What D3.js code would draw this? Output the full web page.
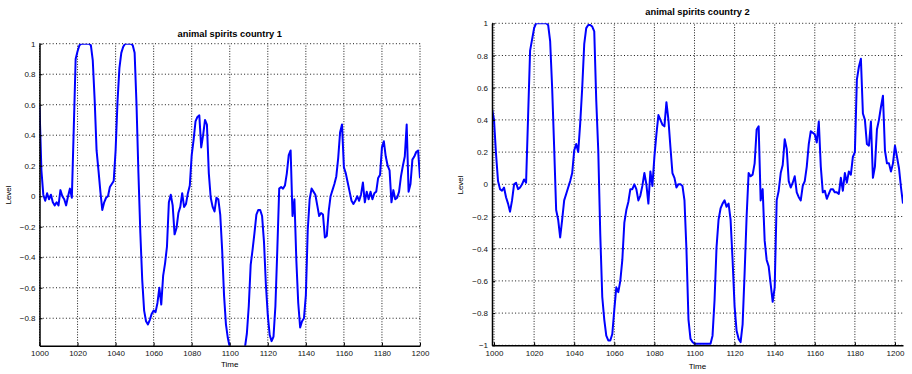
<!DOCTYPE html>
<html>
<head>
<meta charset="utf-8">
<script src="https://cdn.jsdelivr.net/npm/d3@7"></script>
<style>
  body { margin: 0; background: #fff; }
  svg { font-family: "Liberation Sans", Arial, Helvetica, sans-serif; }
  .axis path { stroke: #000; stroke-width: 1.5; }
  .axis line { stroke: #000; }
  .axis text { font-size: 8px; fill: #111; }
  .grid line { stroke: #000; stroke-width: 0.9; }
  .grid .gx { stroke-dasharray: 1,1.6; }
  .grid .gy { stroke-dasharray: 1,2.3; }
  .title { font-size: 9.3px; font-weight: bold; }
  .axis-label { font-size: 8px; }
</style>
</head>
<body>
<div id="chart"></div>
<script>
// time axis ticks and level ticks
var timeTicks = [1000, 1020, 1040, 1060, 1080, 1100, 1120, 1140, 1160, 1180, 1200];
var levelTicks1 = [-0.8, -0.6, -0.4, -0.2, 0, 0.2, 0.4, 0.6, 0.8, 1];
var levelTicks2 = [-1, -0.8, -0.6, -0.4, -0.2, 0, 0.2, 0.4, 0.6, 0.8, 1];

// country 1, one value per period starting at 1000
var start1 = 1000;
var country1 = [
  0.59, 0.17, 0.01, -0.03, 0.02, -0.02, 0.01, -0.04, -0.06, -0.04,
  -0.06, 0.04, 0.00, -0.02, -0.06, 0.00, 0.05, -0.01, 0.44, 0.90,
  0.95, 0.99, 1.00, 1.00, 1.00, 1.00, 1.00, 0.99, 0.89, 0.63,
  0.30, 0.17, 0.03, -0.09, -0.04, -0.01, 0.00, 0.06, 0.08, 0.10,
  0.30, 0.62, 0.84, 0.94, 0.98, 1.00, 1.00, 1.00, 1.00, 0.99,
  0.94, 0.60, 0.15, -0.24, -0.55, -0.75, -0.82, -0.84, -0.81, -0.77,
  -0.75, -0.76, -0.70, -0.60, -0.71, -0.52, -0.44, -0.33, -0.04, 0.01,
  -0.06, -0.25, -0.21, -0.11, -0.07, 0.02, -0.07, -0.05, 0.02, 0.07,
  0.27, 0.37, 0.49, 0.52, 0.53, 0.32, 0.40, 0.50, 0.47, 0.15,
  -0.01, -0.07, -0.10, -0.01, -0.02, -0.12, -0.35, -0.65, -0.84, -0.93,
  -0.99, -1.00, -1.00, -1.00, -1.00, -1.00, -1.00, -1.00, -0.99, -0.90,
  -0.72, -0.45, -0.35, -0.24, -0.12, -0.09, -0.09, -0.13, -0.30, -0.58,
  -0.78, -0.91, -0.95, -0.92, -0.72, -0.35, 0.05, 0.06, 0.05, 0.07,
  0.15, 0.27, 0.30, -0.13, -0.02, -0.42, -0.70, -0.86, -0.82, -0.80,
  -0.65, -0.22, -0.02, 0.05, 0.03, 0.01, -0.06, -0.13, -0.11, -0.12,
  -0.27, -0.26, -0.10, 0.00, 0.04, 0.08, 0.13, 0.25, 0.42, 0.47,
  0.19, 0.15, 0.09, 0.03, -0.03, -0.05, -0.03, 0.00, -0.03, 0.01,
  0.09, -0.04, 0.03, -0.02, 0.03, -0.02, 0.02, 0.03, 0.12, 0.14,
  0.32, 0.36, 0.26, 0.20, 0.17, -0.04, 0.04, -0.02, -0.01, 0.03,
  0.13, 0.20, 0.26, 0.47, 0.03, 0.08, 0.24, 0.26, 0.29, 0.30,
  0.12
];

// country 2, one value per period starting at 999
var start2 = 999;
var country2 = [
  0.47, 0.40, 0.19, 0.02, -0.03, -0.04, -0.02, -0.08, -0.12, -0.17,
  -0.10, 0.00, 0.01, -0.03, -0.02, 0.00, 0.03, 0.01, 0.42, 0.83,
  0.90, 0.97, 1.00, 1.00, 1.00, 1.00, 1.00, 1.00, 0.99, 0.89,
  0.60, 0.23, -0.16, -0.22, -0.33, -0.22, -0.10, -0.06, -0.02, 0.02,
  0.07, 0.21, 0.25, 0.20, 0.38, 0.60, 0.87, 0.97, 0.99, 0.99,
  0.98, 0.95, 0.52, 0.21, -0.31, -0.70, -0.84, -0.94, -0.97, -0.97,
  -0.93, -0.78, -0.64, -0.67, -0.60, -0.47, -0.24, -0.16, -0.11, -0.03,
  -0.03, 0.00, -0.03, -0.10, -0.07, -0.01, 0.07, 0.00, -0.12, 0.08,
  -0.01, 0.17, 0.31, 0.43, 0.40, 0.37, 0.36, 0.51, 0.40, 0.23,
  0.07, 0.04, -0.02, 0.00, 0.00, -0.01, -0.10, -0.41, -0.84, -0.96,
  -0.98, -0.99, -0.99, -0.99, -0.99, -0.99, -0.99, -0.99, -0.99, -0.99,
  -0.94, -0.72, -0.39, -0.22, -0.15, -0.12, -0.10, -0.14, -0.12, -0.22,
  -0.47, -0.76, -0.91, -0.96, -0.98, -0.87, -0.55, -0.20, 0.07, 0.05,
  0.06, 0.13, 0.34, 0.36, -0.10, -0.03, -0.35, -0.47, -0.51, -0.62,
  -0.73, -0.64, -0.10, -0.04, 0.07, 0.12, 0.28, 0.22, 0.02, -0.02,
  0.01, 0.05, -0.05, -0.08, -0.10, -0.01, 0.02, 0.11, 0.25, 0.33,
  0.32, 0.31, 0.26, 0.39, 0.11, -0.05, -0.04, -0.09, -0.06, -0.03,
  -0.03, -0.05, -0.05, -0.06, 0.04, -0.04, 0.07, 0.01, 0.08, 0.06,
  0.17, 0.20, 0.65, 0.73, 0.78, 0.44, 0.40, 0.25, 0.24, 0.39,
  0.04, 0.11, 0.34, 0.40, 0.48, 0.55, 0.21, 0.13, 0.13, 0.08,
  0.13, 0.24, 0.17, 0.10, -0.02, -0.12
];

var svg = d3.select("#chart")
  .append("svg")
  .attr("width", 912)
  .attr("height", 374);

drawPanel({
  id: "c1", title: "animal spirits country 1",
  values: country1, start: start1,
  xDomain: [1000, 1200], xRange: [39.5, 420],
  yDomain: [-0.98, 1], yRange: [345.7, 43.7], yTicks: levelTicks1,
  titleY: 36.5, levelX: 11, levelY: 195, timeY: 367
});

drawPanel({
  id: "c2", title: "animal spirits country 2",
  values: country2, start: start2,
  xDomain: [999, 1204], xRange: [492, 903],
  yDomain: [-1, 1], yRange: [345.3, 23.3], yTicks: levelTicks2,
  titleY: 14.5, levelX: 463, levelY: 185, timeY: 368.5
});

function drawPanel(o) {
  var x = d3.scaleLinear().domain(o.xDomain).range(o.xRange);
  var y = d3.scaleLinear().domain(o.yDomain).range(o.yRange);
  var g = svg.append("g");
  var fmt = d3.format("~g");

  // dotted grid
  var grid = g.append("g").attr("class", "grid");
  grid.selectAll(".gx").data(timeTicks).enter().append("line")
    .attr("class", "gx")
    .attr("x1", function(d) { return x(d); })
    .attr("x2", function(d) { return x(d); })
    .attr("y1", o.yRange[0]).attr("y2", o.yRange[1]);
  grid.selectAll(".gy").data(o.yTicks).enter().append("line")
    .attr("class", "gy")
    .attr("x1", o.xRange[0]).attr("x2", o.xRange[1])
    .attr("y1", function(d) { return y(d); })
    .attr("y2", function(d) { return y(d); });

  // clip the series to the plot box
  svg.append("clipPath").attr("id", "clip-" + o.id)
    .append("rect")
    .attr("x", o.xRange[0]).attr("y", o.yRange[1])
    .attr("width", o.xRange[1] - o.xRange[0])
    .attr("height", o.yRange[0] - o.yRange[1]);

  var line = d3.line()
    .x(function(d, i) { return x(o.start + i); })
    .y(function(d) { return y(d); });

  g.append("path")
    .datum(o.values)
    .attr("clip-path", "url(#clip-" + o.id + ")")
    .attr("fill", "none")
    .attr("stroke", "#0000ff")
    .attr("stroke-width", 2)
    .attr("stroke-linejoin", "round")
    .attr("d", line);

  // axes, ticks point inward like matlab
  g.append("g")
    .attr("class", "axis")
    .attr("transform", "translate(0," + o.yRange[0] + ")")
    .call(d3.axisBottom(x).tickValues(timeTicks).tickFormat(fmt)
      .tickSizeInner(-3).tickSizeOuter(0).tickPadding(5));

  g.append("g")
    .attr("class", "axis")
    .attr("transform", "translate(" + o.xRange[0] + ",0)")
    .call(d3.axisLeft(y).tickValues(o.yTicks).tickFormat(fmt)
      .tickSizeInner(-3).tickSizeOuter(0).tickPadding(4));

  g.selectAll(".axis").attr("font-family", null).attr("font-size", null);

  g.append("text")
    .attr("class", "title")
    .attr("text-anchor", "middle")
    .attr("x", (o.xRange[0] + o.xRange[1]) / 2)
    .attr("y", o.titleY)
    .text(o.title);

  g.append("text")
    .attr("class", "axis-label")
    .attr("text-anchor", "middle")
    .attr("x", (o.xRange[0] + o.xRange[1]) / 2)
    .attr("y", o.timeY)
    .text("Time");

  g.append("text")
    .attr("class", "axis-label")
    .attr("text-anchor", "middle")
    .attr("transform", "translate(" + o.levelX + "," + o.levelY + ")rotate(-90)")
    .text("Level");
}
</script>
</body>
</html>
